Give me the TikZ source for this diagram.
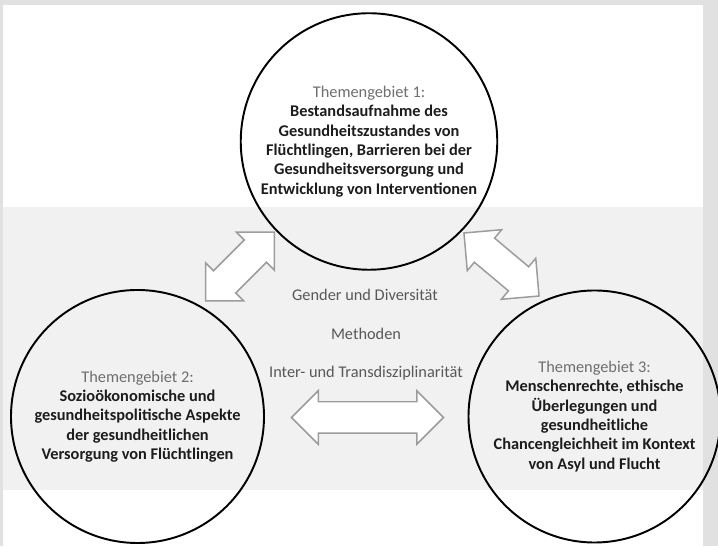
\documentclass[tikz,border=0pt]{standalone}
\usepackage{fontspec}
\setmainfont{Carlito}
\usetikzlibrary{shapes.arrows}
\definecolor{rahmen}{HTML}{E1E1E1}
\definecolor{band}{HTML}{F1F1F1}
\definecolor{pfeilrand}{HTML}{9C9C9C}
\definecolor{grautext}{HTML}{6E6E6E}
\definecolor{mittel}{HTML}{585858}
\definecolor{dunkel}{HTML}{1C1C1C}
\begin{document}
\begin{tikzpicture}[
                gebiet/.style={circle, draw=black, line width=1.1pt, inner sep=0pt, align=center,
                               text=dunkel, font=\fontsize{9.3}{11}\selectfont\bfseries},
                quer/.style={text=mittel, font=\fontsize{9.3}{11}\selectfont},
                doppelpfeil/.style={double arrow, draw=pfeilrand, fill=white, line width=0.85pt,
                               double arrow tip angle=90, double arrow head extend=0.22cm,
                               minimum width=1.04cm, inner xsep=0pt, inner ysep=0.3cm}]
                \useasboundingbox (0,0) rectangle (14.36,10.92);
                \fill[rahmen] (0,0) rectangle (14.36,10.92);
                \fill[white] (0.06,0) rectangle (14.06,10.82);
                \fill[band] (0.06,1.12) rectangle (14.06,6.78);
                
                \node[doppelpfeil, minimum height=1.94cm, rotate=45] (p12) at (4.80,5.59) {};
                \node[doppelpfeil, minimum height=1.96cm, rotate=-40] (p13) at (10.03,5.63) {};
                \node[doppelpfeil, minimum height=3.04cm] (p23) at (7.35,2.57) {};
                
                \node[gebiet, minimum size=5.13cm] (t1) at (7.38,8.09)
                    {\textcolor{grautext}{\mdseries Themengebiet 1:}\\
                     Bestandsaufnahme des\\
                     Gesundheitszustandes von\\
                     Flüchtlingen, Barrieren bei der\\
                     Gesundheitsversorgung und\\
                     Entwicklung von Interventionen};
                \node[gebiet, minimum size=5.06cm] (t2) at (2.75,2.59)
                    {\textcolor{grautext}{\mdseries Themengebiet 2:}\\
                     Sozioökonomische und\\
                     gesundheitspolitische Aspekte\\
                     der gesundheitlichen\\
                     Versorgung von Flüchtlingen};
                \node[gebiet, minimum size=5.04cm] (t3) at (11.89,2.59)
                    {\textcolor{grautext}{\mdseries Themengebiet 3:}\\
                     Menschenrechte, ethische\\
                     Überlegungen und\\
                     gesundheitliche\\
                     Chancengleichheit im Kontext\\
                     von Asyl und Flucht};
                
                \node[quer] (gender) at (7.30,5.02) {Gender und Diversität};
                \node[quer] (methoden) at (7.32,4.24) {Methoden};
                \node[quer] (inter) at (7.32,3.46) {Inter- und Transdisziplinarität};
\end{tikzpicture}
\end{document}
